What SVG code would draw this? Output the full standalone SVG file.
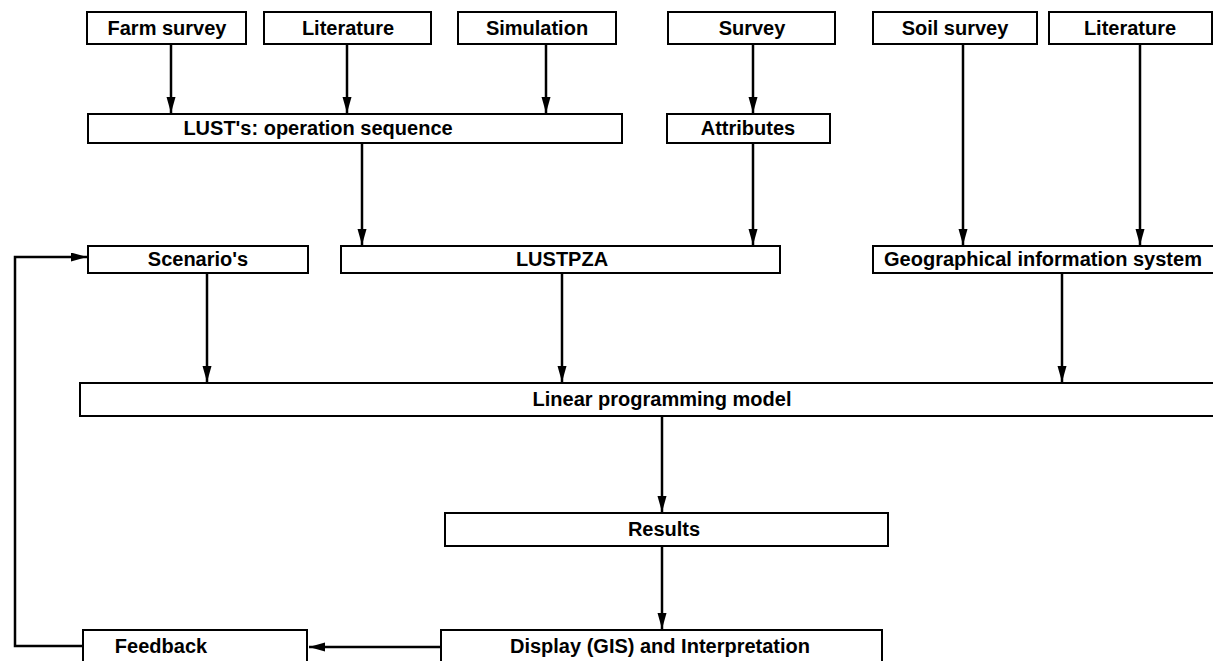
<svg xmlns="http://www.w3.org/2000/svg" width="1213" height="661" viewBox="0 0 1213 661">
<style>
.box{fill:#fff;stroke:#000;stroke-width:2}
.lbl{font-family:"Liberation Sans",Arial,sans-serif;font-weight:bold;font-size:20px;fill:#000;text-anchor:middle}
.con{fill:none;stroke:#000;stroke-width:2.5}
</style>
<defs>
<marker id="ah" markerUnits="userSpaceOnUse" markerWidth="18" markerHeight="10" refX="16" refY="4.5" orient="auto">
<path d="M0,0 L16,4.5 L0,9 z" fill="#000"/>
</marker>
</defs>
<rect width="1213" height="661" fill="#fff"/>
<g id="connectors">
<path class="con" d="M171,44 V113" marker-end="url(#ah)"/>
<path class="con" d="M347,44 V113" marker-end="url(#ah)"/>
<path class="con" d="M546,44 V113" marker-end="url(#ah)"/>
<path class="con" d="M753,44 V113" marker-end="url(#ah)"/>
<path class="con" d="M362,143 V245" marker-end="url(#ah)"/>
<path class="con" d="M753,143 V245" marker-end="url(#ah)"/>
<path class="con" d="M963,44 V245" marker-end="url(#ah)"/>
<path class="con" d="M1140,44 V245" marker-end="url(#ah)"/>
<path class="con" d="M207,273 V382" marker-end="url(#ah)"/>
<path class="con" d="M562,273 V382" marker-end="url(#ah)"/>
<path class="con" d="M1062,273 V382" marker-end="url(#ah)"/>
<path class="con" d="M662,416 V512" marker-end="url(#ah)"/>
<path class="con" d="M662,546 V629" marker-end="url(#ah)"/>
<path class="con" d="M441,647 H309" marker-end="url(#ah)"/>
<path class="con" d="M83,646 H15 V257 H87" marker-end="url(#ah)"/>
</g>
<g id="farm-survey"><rect class="box" x="87" y="12" width="159" height="32"/><text class="lbl" x="167" y="35">Farm survey</text></g>
<g id="literature-1"><rect class="box" x="264" y="12" width="167" height="32"/><text class="lbl" x="348" y="35">Literature</text></g>
<g id="simulation"><rect class="box" x="458" y="12" width="158" height="32"/><text class="lbl" x="537" y="35">Simulation</text></g>
<g id="survey"><rect class="box" x="668" y="12" width="167" height="32"/><text class="lbl" x="752" y="35">Survey</text></g>
<g id="soil-survey"><rect class="box" x="873" y="12" width="164" height="32"/><text class="lbl" x="955" y="35">Soil survey</text></g>
<g id="literature-2"><rect class="box" x="1049" y="12" width="163" height="32"/><text class="lbl" x="1130" y="35">Literature</text></g>
<g id="lust-ops"><rect class="box" x="88" y="114" width="534" height="29"/><text class="lbl" x="318" y="135">LUST's: operation sequence</text></g>
<g id="attributes"><rect class="box" x="667" y="114" width="163" height="29"/><text class="lbl" x="748" y="135">Attributes</text></g>
<g id="scenarios"><rect class="box" x="88" y="246" width="220" height="27"/><text class="lbl" x="198" y="266">Scenario's</text></g>
<g id="lustpza"><rect class="box" x="341" y="246" width="439" height="27"/><text class="lbl" x="562" y="266">LUSTPZA</text></g>
<g id="gis"><rect class="box" x="873" y="246" width="345" height="27"/><text class="lbl" x="1043" y="266">Geographical information system</text></g>
<g id="lp-model"><rect class="box" x="80" y="383" width="1140" height="33"/><text class="lbl" x="662" y="406">Linear programming model</text></g>
<g id="results"><rect class="box" x="445" y="513" width="443" height="33"/><text class="lbl" x="664" y="536">Results</text></g>
<g id="display"><rect class="box" x="441" y="630" width="441" height="40"/><text class="lbl" x="660" y="653">Display (GIS) and Interpretation</text></g>
<g id="feedback"><rect class="box" x="83" y="630" width="224" height="40"/><text class="lbl" x="161" y="653">Feedback</text></g>
</svg>
